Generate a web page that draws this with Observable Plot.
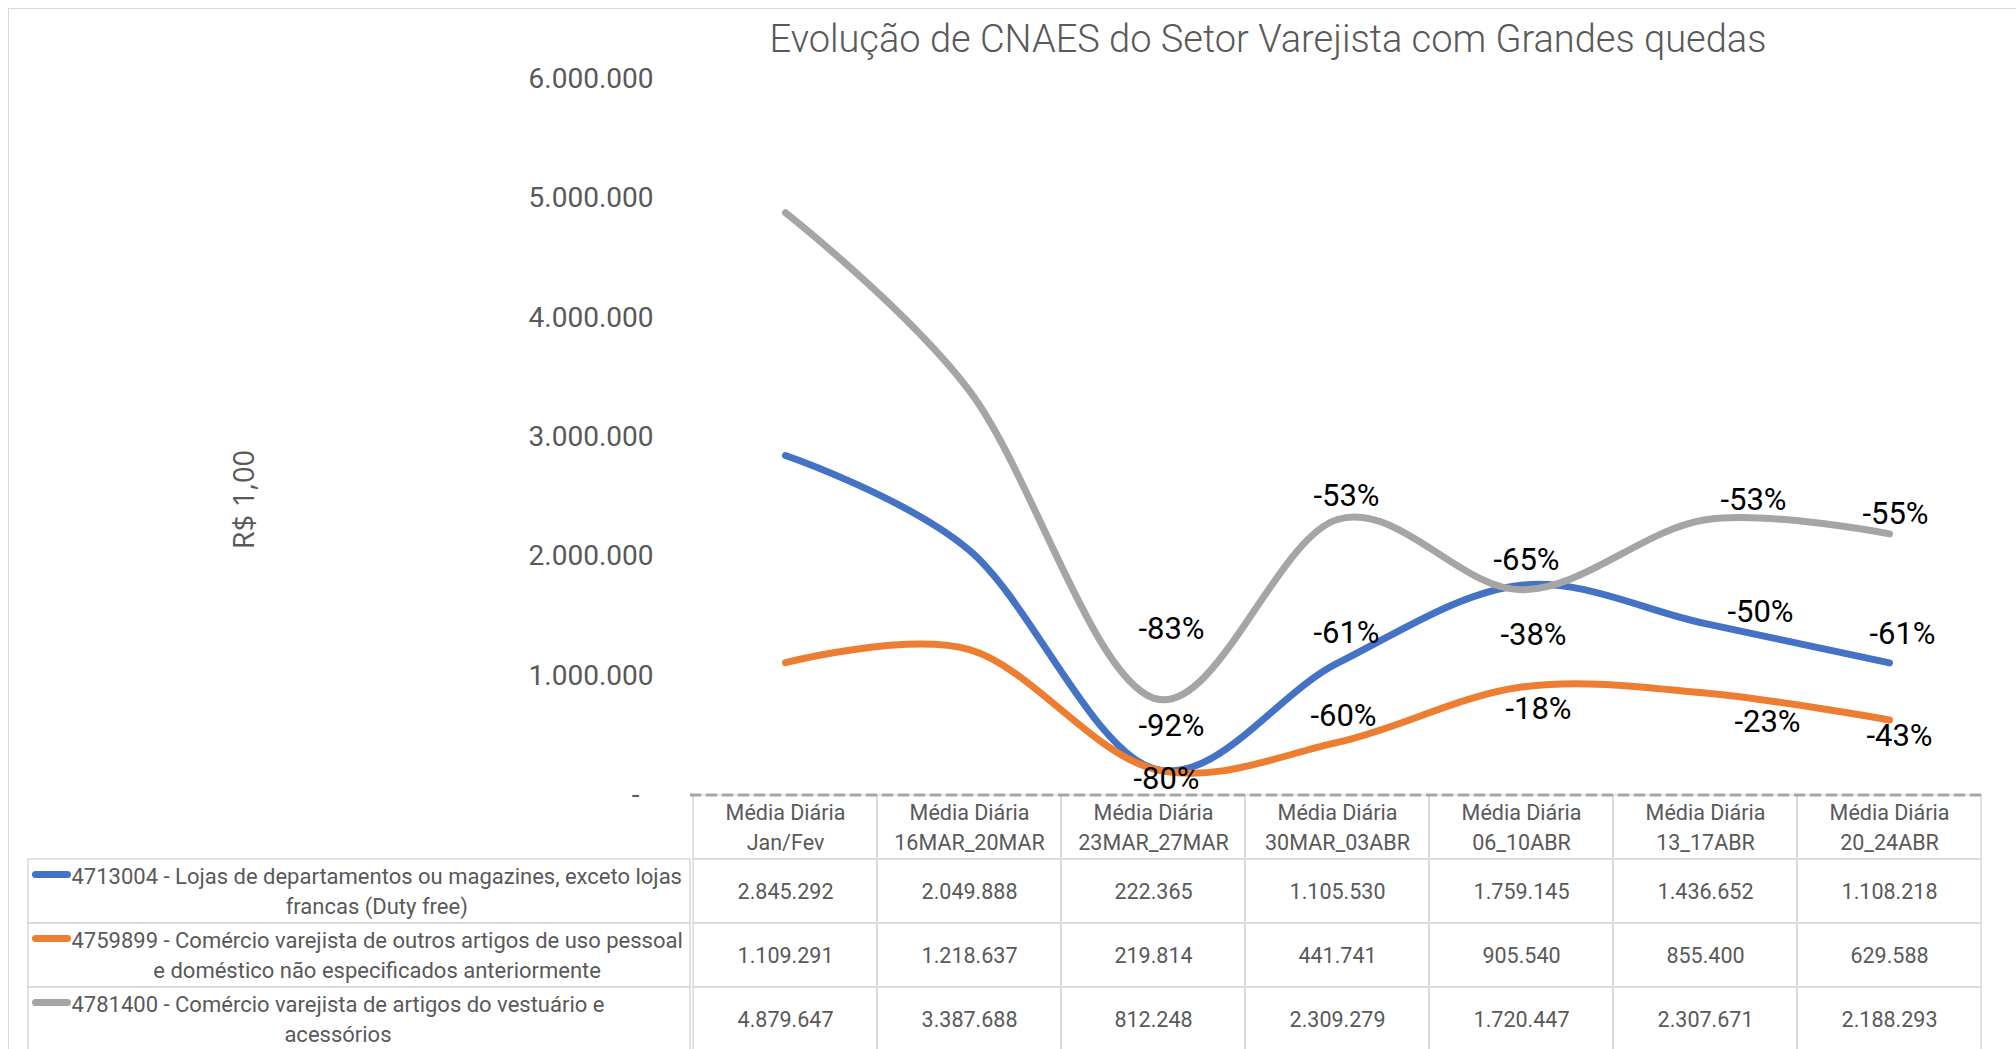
<!DOCTYPE html>
<html>
<head>
<meta charset="utf-8">
<script src="https://cdn.jsdelivr.net/npm/d3@7"></script>
<script src="https://cdn.jsdelivr.net/npm/@observablehq/plot@0.6"></script>
<style>
  html, body { margin: 0; padding: 0; background: white; }
  #chart { position: relative; width: 2016px; height: 1049px; overflow: hidden; background: white; }
  #border { position: absolute; left: 8px; top: 8px; width: 3000px; height: 3000px; border: 1.5px solid #D9D9D9; }
  #title { position: absolute; left: 1268px; top: 18px; transform: translateX(-50%); white-space: nowrap;
           font-family: Roboto, sans-serif; font-weight: 300; font-size: 38px; line-height: 42px; color: #595959; }
  .layer { position: absolute; left: 0; top: 0; }
</style>
</head>
<body>
<div id="chart">
  <div id="border"></div>
  <div id="title"></div>
  <div id="table" class="layer" style="top:794px"></div>
  <div id="legend" class="layer" style="top:794px;left:28px"></div>
  <div id="main" class="layer"></div>
</div>
<script>
// ---------- data ----------
const titleText = "Evolução de CNAES do Setor Varejista com Grandes quedas";
const yLabel = "R$ 1,00";
const headerPrefix = "Média Diária";
const categories = ["Jan/Fev", "16MAR_20MAR", "23MAR_27MAR", "30MAR_03ABR", "06_10ABR", "13_17ABR", "20_24ABR"];
const seriesNames = [
  "4713004 - Lojas de departamentos ou magazines, exceto lojas francas (Duty free)",
  "4759899 - Comércio varejista de outros artigos de uso pessoal e doméstico não especificados anteriormente",
  "4781400 - Comércio varejista de artigos do vestuário e acessórios"
];
const lojasValues     = [2845292, 2049888, 222365, 1105530, 1759145, 1436652, 1108218];
const outrosValues    = [1109291, 1218637, 219814, 441741, 905540, 855400, 629588];
const vestuarioValues = [4879647, 3387688, 812248, 2309279, 1720447, 2307671, 2188293];
const lojasPct     = [null, null, "-92%", "-61%", "-38%", "-50%", "-61%"];
const outrosPct    = [null, null, "-80%", "-60%", "-18%", "-23%", "-43%"];
const vestuarioPct = [null, null, "-83%", "-53%", "-65%", "-53%", "-55%"];
const yTicks = [0, 1000000, 2000000, 3000000, 4000000, 5000000, 6000000];

// ---------- styles / layout ----------
const colors = ["#4472C4", "#ED7D31", "#A5A5A5"];
// label nudges (px) relative to each point, per series
const labelNudges = [
  [null, null, [18, -42], [9, -30], [12, 50], [55, -12], [13, -29]],
  [null, null, [13, 10], [6, -26], [17, 22], [62, 29], [10, 16]],
  [null, null, [18, -69], [9, -23], [5, -30], [48, -20], [6, -20]]
];
const textGray = "#595959";
const gridGray = "#D9D9D9";
const font = "Roboto, sans-serif";

const W = 2016, mL = 690, mR = 33;

document.getElementById("title").textContent = titleText;

const seriesValues = [lojasValues, outrosValues, vestuarioValues];
const seriesPct = [lojasPct, outrosPct, vestuarioPct];
const fmt = d => d3.format(",")(d).replace(/,/g, ".");

const long = seriesNames.flatMap((s, si) => categories.map((c, i) => ({
  series: s, si, i, cat: c, value: seriesValues[si][i], pct: seriesPct[si][i]
})));

const labelMarks = long.filter(d => d.pct).map(d => {
  const [dx, dy] = labelNudges[d.si][d.i];
  return Plot.text([d], {x: "cat", y: "value", text: "pct", dx, dy, fontSize: 31, fill: "#000", fontFamily: font});
});

const main = Plot.plot({
  width: W, height: 797,
  marginLeft: mL, marginRight: mR, marginTop: 78.5, marginBottom: 2.4,
  style: {background: "transparent", fontFamily: font, color: textGray, overflow: "visible"},
  x: {type: "band", domain: categories, padding: 0, axis: null},
  y: {domain: [0, 6000000], axis: null},
  color: {domain: seriesNames, range: colors},
  marks: [
    Plot.axisY({ticks: yTicks, tickSize: 0, tickPadding: 37, fontSize: 28, label: null,
      tickFormat: d => d === 0 ? "-\u00a0\u00a0" : fmt(d)}),
    Plot.text([yLabel], {text: d => d, frameAnchor: "left", textAnchor: "middle", rotate: -90, dx: -446, dy: 62.5,
      fontSize: 29, fontFamily: "Open Sans", fill: textGray}),
    Plot.ruleY([0], {stroke: "#A5A5A5", strokeWidth: 3, strokeDasharray: "11,5"}),
    Plot.line(long, {x: "cat", y: "value", stroke: "series", z: "series", strokeWidth: 7,
      curve: "cardinal", tension: 0, strokeLinecap: "round", strokeLinejoin: "round"}),
    ...labelMarks
  ]
});
document.getElementById("main").appendChild(main);

// ---------- data table ----------
const rowKeys = ["header", ...seriesNames];
const cells = rowKeys.flatMap((r, ri) => categories.map((c, i) => ({
  row: r, cat: c,
  text: ri === 0 ? headerPrefix + "\n" + c : fmt(seriesValues[ri - 1][i])
})));

const table = Plot.plot({
  width: W, height: 258,
  marginLeft: mL, marginRight: mR, marginTop: 0, marginBottom: 0,
  style: {background: "transparent", fontFamily: font, color: textGray, overflow: "visible"},
  x: {type: "band", domain: categories, padding: 0, axis: null},
  y: {type: "band", domain: rowKeys, padding: 0, axis: null},
  marks: [
    Plot.cell(cells, {x: "cat", y: "row", fill: "none", stroke: gridGray, strokeWidth: 1.5, inset: 0}),
    Plot.text(cells, {x: "cat", y: "row", text: "text", fontSize: 21.5, lineHeight: 30 / 21.5, dy: -2, fill: textGray})
  ]
});
document.getElementById("table").appendChild(table);

// ---------- legend column ----------
const legW = mL - 28;
const ctx = document.createElement("canvas").getContext("2d");
ctx.font = "22px " + font;
function wrap(str, maxW) {
  const words = str.split(" ");
  const lines = [];
  let cur = "";
  for (const w of words) {
    const t = cur ? cur + " " + w : w;
    if (cur && ctx.measureText(t).width > maxW) { lines.push(cur); cur = w; }
    else cur = t;
  }
  if (cur) lines.push(cur);
  return lines;
}
const keyEnd = 43;
const legendRows = seriesNames.map((s, si) => {
  const lines = wrap(s, legW - keyEnd + 4);
  const maxW = d3.max(lines, l => ctx.measureText(l).width);
  return {row: s, si, text: lines.join("\n"), dx: keyEnd + maxW / 2 - legW / 2};
});

const legend = Plot.plot({
  width: legW, height: 258,
  margin: 0,
  style: {background: "transparent", fontFamily: font, color: textGray, overflow: "visible"},
  x: {type: "band", domain: ["legenda"], padding: 0, axis: null},
  y: {type: "band", domain: rowKeys, padding: 0, axis: null},
  color: {domain: seriesNames, range: colors},
  marks: [
    Plot.cell(legendRows, {x: () => "legenda", y: "row", fill: "none", stroke: gridGray, strokeWidth: 1.5, inset: 0}),
    Plot.tickY(legendRows, {x: () => "legenda", y: "row", stroke: "row", strokeWidth: 7, strokeLinecap: "round",
      insetLeft: 7.5, insetRight: legW - 39.5, dy: -17}),
    ...legendRows.map(r => Plot.text([r], {x: () => "legenda", y: "row", text: "text", dx: r.dx, dy: -2,
      fontSize: 22, lineHeight: 30 / 22, fill: textGray}))
  ]
});
document.getElementById("legend").appendChild(legend);
</script>
</body>
</html>
